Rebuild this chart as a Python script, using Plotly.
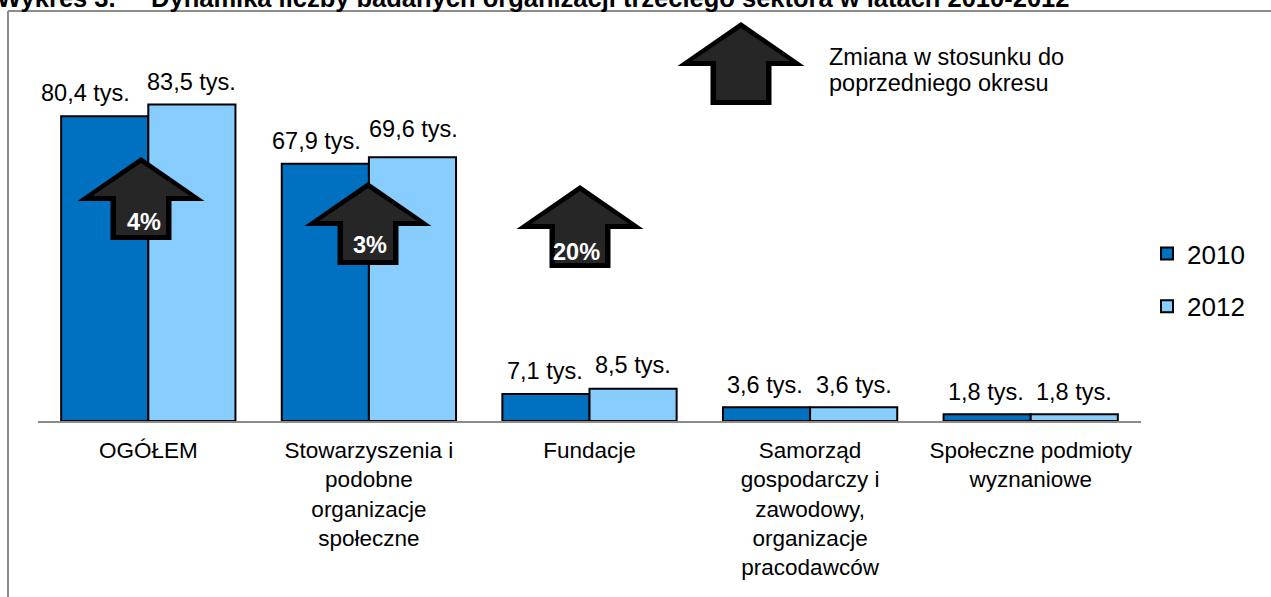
import plotly.graph_objects as go

categories = ["OGÓŁEM", "Stowarzyszenia i<br>podobne<br>organizacje<br>społeczne", "Fundacje",
              "Samorząd<br>gospodarczy i<br>zawodowy,<br>organizacje<br>pracodawców",
              "Społeczne podmioty<br>wyznaniowe"]
values_2010 = [80.4, 67.9, 7.1, 3.6, 1.8]
values_2012 = [83.5, 69.6, 8.5, 3.6, 1.8]
label_shift_2010 = [(-19, 8), (-9, 8), (-1, 8), (-2, 7), (-1, 7)]
label_shift_2012 = [(0, 8), (1, 13), (0, 9), (0, 7), (0, 7)]
arrows = [(141, 157, "4%", 144, 222), (368, 182, "3%", 370, 245), (580, 185, "20%", 576, 252), (741, 22, "", 0, 0)]

W, H, L, R, T, B = 1271, 597, 38, 130, 42, 176
FONT = "Liberation Sans"
C1, C2 = "#0070C0", "#87CEFF"


def px(x):
    return (x - L) / (W - L - R)


def py(y):
    return 1 - (y - T) / (H - T - B)


def poly(pts):
    return "M" + " L".join(f"{px(a)},{py(b)}" for a, b in pts) + " Z"


def arrow_pts(tx, ty, tip, wing, shaft, wy, by):
    return [(tx, ty + tip), (tx + wing, ty + wy), (tx + shaft, ty + wy), (tx + shaft, ty + by),
            (tx - shaft, ty + by), (tx - shaft, ty + wy), (tx - wing, ty + wy)]


x_idx = list(range(len(categories)))
fig = go.Figure()
for name, vals, col in [("2010", values_2010, C1), ("2012", values_2012, C2)]:
    fig.add_bar(x=x_idx, y=vals, name=name, legendgroup=name, marker=dict(color=col, line=dict(color="black", width=2)))

shapes = [
    dict(type="line", xref="paper", yref="paper", x0=px(8), x1=px(8), y0=py(11), y1=py(597), line=dict(color="#8c8c8c", width=2)),
    dict(type="line", xref="paper", yref="paper", x0=px(8), x1=px(1271), y0=py(11), y1=py(11), line=dict(color="#8c8c8c", width=2)),
]
annotations = []
for tx, ty, txt, lx, ly in arrows:
    shapes.append(dict(type="path", xref="paper", yref="paper", path=poly(arrow_pts(tx, ty, 0, 63.5, 30.5, 44, 83)),
                       fillcolor="#000000", line=dict(width=0)))
    shapes.append(dict(type="path", xref="paper", yref="paper", path=poly(arrow_pts(tx, ty, 6, 49, 25, 39, 78)),
                       fillcolor="#262626", line=dict(width=0)))
    if txt:
        annotations.append(dict(xref="paper", yref="paper", x=px(lx), y=py(ly), text=f"<b>{txt}</b>", showarrow=False,
                                font=dict(family=FONT, size=23.5, color="white"), xanchor="center", yanchor="middle"))

for vals, shifts, off in [(values_2010, label_shift_2010, -43.5), (values_2012, label_shift_2012, 43.5)]:
    for i, v in enumerate(vals):
        annotations.append(dict(x=i, y=v, text=f"{v:.1f}".replace(".", ",") + " tys.", showarrow=False,
                                xshift=off + shifts[i][0], yshift=shifts[i][1], yanchor="bottom", xanchor="center",
                                font=dict(family=FONT, size=23.5, color="black")))

for line, ly in [("Zmiana w stosunku do", 57), ("poprzedniego okresu", 83)]:
    annotations.append(dict(xref="paper", yref="paper", x=px(827), y=py(ly), text=line, showarrow=False, xanchor="left",
                            yanchor="middle", align="left", font=dict(family=FONT, size=23.5, color="black")))
annotations.append(dict(xref="paper", yref="paper", x=px(-5), y=py(14), yanchor="bottom", xanchor="left", showarrow=False,
                        text="<b>Wykres 3.\u00a0\u00a0\u00a0\u00a0\u00a0Dynamika liczby badanych organizacji trzeciego sektora w latach 2010-2012</b>",
                        font=dict(family=FONT, size=25.5, color="black")))

fig.update_layout(
    width=W, height=H, margin=dict(l=L, r=R, t=T, b=B), paper_bgcolor="white", plot_bgcolor="white",
    barmode="group", bargap=0.21, bargroupgap=0,
    shapes=shapes, annotations=annotations,
    legend=dict(xref="container", yref="container", x=1155 / W, y=1 - 230 / H, xanchor="left", yanchor="top",
                font=dict(family=FONT, size=26, color="black"), indentation=-8,
                tracegroupgap=16, itemwidth=30, bgcolor="rgba(0,0,0,0)"),
    xaxis=dict(tickmode="array", tickvals=x_idx, ticktext=categories, range=[-0.5, 4.5], ticks="", showline=True,
               linecolor="#8c8c8c", linewidth=2, tickfont=dict(family=FONT, size=22.5, color="black"), showgrid=False,
               zeroline=False, ticklabelstandoff=8),
    yaxis=dict(range=[0, 100], visible=False, showgrid=False, zeroline=False),
)
fig.write_html("out.html", config=dict(displayModeBar=False),
               post_script="document.body.style.margin='0';document.documentElement.style.overflow='hidden';")
